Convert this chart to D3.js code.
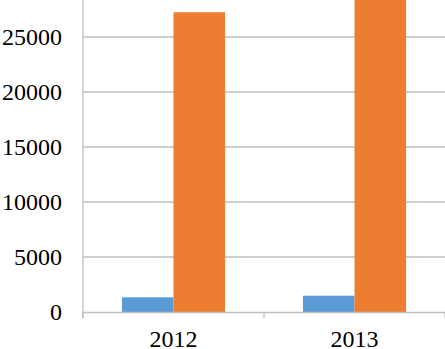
<!DOCTYPE html>
<html><head><meta charset="utf-8">
<script src="https://cdn.jsdelivr.net/npm/d3@7"></script>
<style>body{margin:0;background:#fff;}svg{display:block;} svg text{font-family:'Liberation Serif','Times New Roman',serif;}</style>
</head><body>
<svg id="c" width="445" height="349"></svg>
<script>
const categories = ["2012", "2013"];
const seriesNames = ["A", "B"];
const seriesA = [1340, 1480];
const seriesB = [27250, 29500];
const yTicks = [0, 5000, 10000, 15000, 20000, 25000];
const colors = ["#5b9bd5", "#ed7d31"];

const svg = d3.select("#c");
const left = 83, right = 445, y0 = 312, yTop = 37;
const x0 = d3.scaleBand().domain(categories).range([left, right]);
const x1 = d3.scaleBand().domain(seriesNames).range([0, x0.bandwidth()]).paddingOuter(0.755);
const y = d3.scaleLinear().domain([0, 25000]).range([y0, yTop]);
const serif = "'Liberation Serif','Times New Roman',serif";

// gridlines
svg.append("g").selectAll("line").data(yTicks.filter(d => d > 0)).join("line")
  .attr("x1", left).attr("x2", right).attr("y1", d => y(d)).attr("y2", d => y(d))
  .attr("stroke", "#bfbfbf").attr("stroke-width", 1.3);

// bars
const data = categories.map((c, i) => ({c, vals: [seriesA[i], seriesB[i]]}));
const g = svg.append("g").selectAll("g").data(data).join("g")
  .attr("transform", d => `translate(${x0(d.c)},0)`);
g.selectAll("rect").data(d => d.vals.map((v, j) => ({v, s: seriesNames[j], j}))).join("rect")
  .attr("x", d => x1(d.s)).attr("width", x1.bandwidth())
  .attr("y", d => y(d.v)).attr("height", d => y(0) - y(d.v))
  .attr("fill", d => colors[d.j]);

// x axis
const xa = svg.append("g").attr("transform", `translate(0,${y0})`)
  .call(d3.axisBottom(x0).tickSize(0).tickSizeOuter(0));
xa.attr("font-family", null).attr("font-size", null);
xa.select(".domain").attr("stroke", "#bfbfbf").attr("stroke-width", 1.3);
xa.selectAll("text").attr("dy", null).attr("y", 35)
  .style("font-family", serif).style("font-size", "24px").attr("fill", "#000");
// category boundary ticks
const bounds = [left, ...categories.map(c => x0(c) + x0.bandwidth())];
svg.append("g").selectAll("line").data(bounds).join("line")
  .attr("x1", d => d).attr("x2", d => d).attr("y1", y0).attr("y2", y0 + 6)
  .attr("stroke", "#bfbfbf").attr("stroke-width", 1.3);

// y axis
const ya = svg.append("g").attr("transform", `translate(${left},0)`)
  .call(d3.axisLeft(y).tickValues(yTicks).tickSize(0).tickPadding(21).tickFormat(d3.format("d")));
ya.attr("font-family", null).attr("font-size", null);
ya.select(".domain").remove();
svg.append("line").attr("x1", left).attr("x2", left).attr("y1", 0).attr("y2", y0 + 6)
  .attr("stroke", "#bfbfbf").attr("stroke-width", 1.3);
ya.selectAll("text").style("font-family", serif)
  .style("font-size", "24px").attr("fill", "#000");
</script>
</body></html>
